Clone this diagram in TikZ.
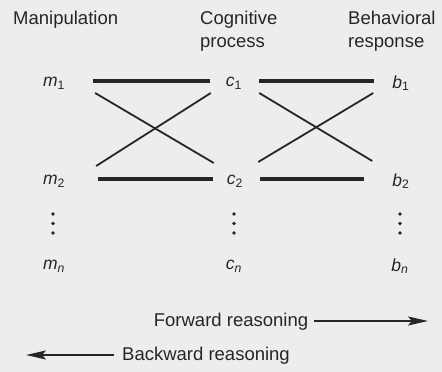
\documentclass[tikz,border=0pt]{standalone}
\usepackage{fontspec}
\setmainfont{Liberation Sans}
\usetikzlibrary{arrows.meta}
\definecolor{bg}{HTML}{EDEDEB}
\definecolor{ink}{HTML}{262626}
\tikzset{
  lbl/.style={font=\fontsize{18.5}{23}\selectfont, text=ink, inner sep=0pt},
  hdr/.style={lbl, align=left, anchor=north west},
  var/.style={font=\fontsize{17.5}{20}\selectfont, text=ink, inner sep=0pt, anchor=center},
  thickline/.style={draw=ink, line width=3.4pt},
  thinline/.style={draw=ink, line width=1.8pt},
  reason/.style={draw=ink, line width=1.8pt, -{Stealth[length=20pt,width=9pt,inset=4pt]}},
  vdot/.style={fill=ink}
}
\newcommand{\vv}[2]{\textit{#1}\textsubscript{#2}}
\begin{document}
\begin{tikzpicture}[x=1pt,y=-1pt]
\fill[bg] (0,0) rectangle (442,372);
\useasboundingbox (0,0) rectangle (442,372);

% headers
\node[hdr] (hM) at (13,11) {Manipulation};
\node[hdr] (hC) at (200,11) {Cognitive\\process};
\node[hdr] (hB) at (348,11) {Behavioral\\response};

% variables
\node[var] (m1) at (54,83) {\vv{m}{1}};
\node[var] (c1) at (234,83) {\vv{c}{1}};
\node[var] (b1) at (401,83) {\vv{b}{1}};
\node[var] (m2) at (54,181) {\vv{m}{2}};
\node[var] (c2) at (235,181) {\vv{c}{2}};
\node[var] (b2) at (401,181) {\vv{b}{2}};
\node[var] (mn) at (54,266) {\vv{m}{\itshape n}};
\node[var] (cn) at (234,266) {\vv{c}{\itshape n}};
\node[var] (bn) at (400,266) {\vv{b}{\itshape n}};

% vertical ellipses
\foreach \x in {53,234,400}{
  \foreach \y in {214,223.5,233}{
    \fill[vdot] (\x,\y) circle (1.9);
  }
}

% thick horizontal connectors
\draw[thickline] ([xshift=28pt]m1.east |- 0,81) -- ([xshift=-16pt]c1.west |- 0,81);
\draw[thickline] ([xshift=17pt]c1.east |- 0,81) -- ([xshift=-18pt]b1.west |- 0,81);
\draw[thickline] ([xshift=33pt]m2.east |- 0,179) -- ([xshift=-14pt]c2.west |- 0,179);
\draw[thickline] ([xshift=17pt]c2.east |- 0,179) -- ([xshift=-28pt]b2.west |- 0,179);

% crossing connectors
\draw[thinline] ([xshift=30pt]m1.east |- 0,93) -- ([xshift=-13pt]c2.west |- 0,163);
\draw[thinline] ([xshift=-15pt]c1.west |- 0,93) -- ([xshift=31pt]m2.east |- 0,166);
\draw[thinline] ([xshift=17pt]c1.east |- 0,93) -- ([xshift=-20pt]b2.west |- 0,161);
\draw[thinline] ([xshift=-19pt]b1.west |- 0,93) -- ([xshift=15pt]c2.east |- 0,162);

% reasoning arrows
\node[lbl] (fw) at (231,322) {Forward reasoning};
\node[lbl] (bw) at (206,356) {Backward reasoning};
\coordinate (fwend) at (428,321);
\coordinate (bwend) at (26,355);
\draw[reason] ([xshift=6pt]fw.east |- fwend) -- (fwend);
\draw[reason] ([xshift=-8pt]bw.west |- bwend) -- (bwend);
\end{tikzpicture}
\end{document}
